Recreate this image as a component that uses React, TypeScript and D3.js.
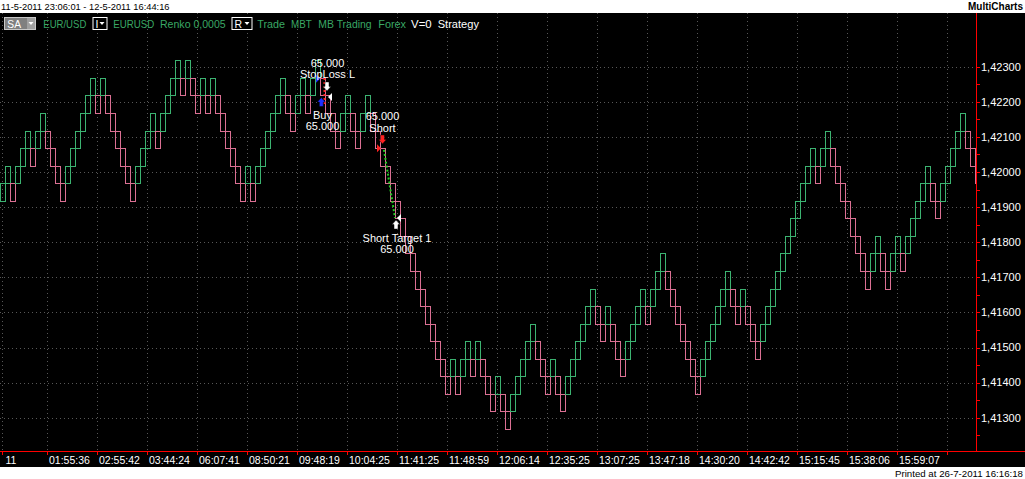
import * as d3 from 'd3';

const WIDTH = 1025;
const HEIGHT = 479;
const PLOT_RIGHT = 976;
const AXIS_Y = 451;
const BLACK_TOP = 13;
const BLACK_BOTTOM = 467;
const FONT = '"Liberation Sans", Arial, sans-serif';

const UP_COLOR = '#3cb371';
const DOWN_COLOR = '#db7093';
const HEADER_GREEN = '#3aa865';
const GRID_COLOR = '#575757';

// Renko 0,0005 bricks, read left to right. Level 0 = bottom of the lowest brick.
const BRICK_SIZE = 0.0005;
const BRICK_BASE = 1.41268;
const BRICK_DIRS =
  'GGPGGGPGGP' + 'PPPGGGGGGP' + 'GPPPPPPGGG' + 'GPGGGGPGPP' + 'GPGPPPPPPG' +
  'PGGGGGGPPG' + 'GPGGPPPPGG' + 'PPGGPPPPPP' + 'PPPPPPPPPP' + 'GPGGPGPPPG' +
  'PPGGGGGPPP' + 'GPPGGGGGGP' + 'PGPPPGGGGP' + 'GGGPPPPPPP' + 'GGGGGGPPGP' +
  'PPGGGGGGGG' + 'GGGPGGPPPP' + 'PPPPGGPPGG' + 'PGGGGGPPGG' + 'GGGPPP';
const BRICK_LOWS = [
  13, 14, 13, 14, 15, 16, 15, 16, 17, 16,
  15, 14, 13, 14, 15, 16, 17, 18, 19, 18,
  19, 18, 17, 16, 15, 14, 13, 14, 15, 16,
  17, 16, 17, 18, 19, 20, 19, 20, 19, 18,
  19, 18, 19, 18, 17, 16, 15, 14, 13, 14,
  13, 14, 15, 16, 17, 18, 19, 18, 17, 18,
  19, 18, 19, 20, 19, 18, 17, 16, 17, 18,
  17, 16, 17, 18, 17, 16, 15, 14, 13, 12,
  11, 10, 9, 8, 7, 6, 5, 4, 3, 2,
  3, 2, 3, 4, 3, 4, 3, 2, 1, 2,
  1, 0, 1, 2, 3, 4, 5, 4, 3, 2,
  3, 2, 1, 2, 3, 4, 5, 6, 7, 6,
  5, 6, 5, 4, 3, 4, 5, 6, 7, 6,
  7, 8, 9, 8, 7, 6, 5, 4, 3, 2,
  3, 4, 5, 6, 7, 8, 7, 6, 7, 6,
  5, 4, 5, 6, 7, 8, 9, 10, 11, 12,
  13, 14, 15, 14, 15, 16, 15, 14, 13, 12,
  11, 10, 9, 8, 9, 10, 9, 8, 9, 10,
  9, 10, 11, 12, 13, 14, 13, 12, 13, 14,
  15, 16, 17, 16, 15, 14,
];

const PRICE_TICKS = [
  1.423, 1.422, 1.421, 1.42, 1.419, 1.418, 1.417, 1.416, 1.415, 1.414, 1.413,
];
const TIME_TICK_BRICKS = [
  0, 9, 19, 29, 39, 49, 59, 69, 79, 89, 99, 109, 119, 129, 139, 149, 159, 169,
  179, 189,
];
const TIME_TICK_LABELS = [
  '11', '01:55:36', '02:55:42', '03:44:24', '06:07:41', '08:50:21', '09:48:19',
  '10:04:25', '11:41:25', '11:48:59', '12:06:14', '12:35:25', '13:07:25',
  '13:47:18', '14:30:20', '14:42:42', '15:15:45', '15:38:06', '15:59:07', '',
];

// header words: text, left x, width, colour
const HEADER_WORDS = [
  { text: 'EUR/USD', x: 43.3, w: 43, color: HEADER_GREEN },
  { text: 'EURUSD', x: 113.3, w: 41, color: HEADER_GREEN },
  { text: 'Renko 0,0005', x: 160, w: 65.7, color: HEADER_GREEN },
  { text: 'Trade', x: 257.3, w: 27.7, color: HEADER_GREEN },
  { text: 'MBT', x: 291, w: 20.7, color: HEADER_GREEN },
  { text: 'MB Trading', x: 318.3, w: 53.3, color: HEADER_GREEN },
  { text: 'Forex', x: 378.3, w: 27.7, color: HEADER_GREEN },
  { text: 'V=0', x: 411, w: 20.7, color: '#ffffff' },
  { text: 'Strategy', x: 437.7, w: 41.3, color: '#ffffff' },
];

// strategy markers: brick position + price
const ORDER_ARROWS = [
  { brick: 63.76, price: 1.42212, dir: 'up', color: '#1f2fff' },
  { brick: 64.9, price: 1.42231, dir: 'down', color: '#ffffff' },
  { brick: 76, price: 1.4208, dir: 'down', color: '#ff2020' },
  { brick: 78.7, price: 1.41863, dir: 'up', color: '#ffffff' },
];
const ORDER_FLAGS = [
  { brick: 62.7, price: 1.42266, dir: 'right', color: '#1f2fff' },
  { brick: 65.1, price: 1.42214, dir: 'left', color: '#ffffff' },
  { brick: 74.9, price: 1.42068, dir: 'right', color: '#ff2020' },
  { brick: 78.9, price: 1.41869, dir: 'left', color: '#ffffff' },
];
const TRADE_LINES = [
  { b0: 64.4, p0: 1.42268, b1: 64.4, p1: 1.42191, color: '#ff2020' },
  { b0: 76.3, p0: 1.42063, b1: 78.5, p1: 1.41869, color: '#22cc22' },
];
const ORDER_TEXTS = [
  { brick: 65, price: 1.423, lines: ['65.000', 'StopLoss L'] },
  { brick: 64, price: 1.42151, lines: ['Buy', '65.000'] },
  { brick: 76, price: 1.42148, lines: ['65.000', 'Short'] },
  { brick: 78.9, price: 1.41801, lines: ['Short Target 1', '65.000'] },
];

const x = d3
  .scaleLinear()
  .domain([0, 1])
  .range([2.5, 7.5]);
const y = d3.scaleLinear().domain([1.413, 1.423]).range([417.7, 66.7]);
const priceFormat = (v: number) => d3.format('.5f')(v).replace('.', ',');

function blockArrow(cx: number, tipY: number, up: boolean) {
  const s = up ? 1 : -1;
  const hw = 4;
  const headH = 4.5;
  const sw = 2;
  const len = 9;
  return `M${cx},${tipY} L${cx + hw},${tipY + s * headH} L${cx + sw},${tipY + s * headH} L${cx + sw},${tipY + s * len} L${cx - sw},${tipY + s * len} L${cx - sw},${tipY + s * headH} L${cx - hw},${tipY + s * headH} Z`;
}

function flag(px: number, cy: number, right: boolean) {
  if (right) return `M${px},${cy - 4} L${px + 4},${cy} L${px},${cy + 4} Z`;
  return `M${px},${cy} L${px + 4},${cy - 4} L${px + 4},${cy + 4} Z`;
}

function DropBox({ x0, w, label }: { x0: number; w: number; label: string }) {
  return (
    <g>
      <rect x={x0 + 0.5} y={17.5} width={w} height={12} fill="#000" stroke="#fff" />
      <text x={x0 + 3} y={27.5} fill="#fff" fontSize={10.5}>
        {label}
      </text>
      <path
        d={`M${x0 + w - 7},${22} L${x0 + w - 2},${22} L${x0 + w - 4.5},${25} Z`}
        fill="#fff"
      />
    </g>
  );
}

export default function App() {
  const bricks = BRICK_LOWS.map((low, i) => ({
    i,
    up: BRICK_DIRS[i] === 'G',
    lo: BRICK_BASE + low * BRICK_SIZE,
    hi: BRICK_BASE + (low + 1) * BRICK_SIZE,
  }));
  const minorTicks = d3.range(0, 22).map((k) => 1.4125 + k * BRICK_SIZE);

  return (
    <svg
      width={WIDTH}
      height={HEIGHT}
      style={{ position: 'absolute', left: 0, top: 0, fontFamily: FONT }}
    >
      <rect width={WIDTH} height={HEIGHT} fill="#fff" />
      <rect y={BLACK_TOP} width={WIDTH} height={BLACK_BOTTOM - BLACK_TOP} fill="#000" />

      <text x={1} y={9.5} fontSize={9.3} fill="#000">
        11-5-2011 23:06:01 - 12-5-2011 16:44:16
      </text>
      <text x={1023} y={9.5} fontSize={10} fontWeight="bold" fill="#000" textAnchor="end">
        MultiCharts
      </text>

      <defs>
        <clipPath id="plot">
          <rect x={0} y={BLACK_TOP} width={PLOT_RIGHT} height={AXIS_Y - BLACK_TOP} />
        </clipPath>
      </defs>

      {/* grid */}
      <g stroke={GRID_COLOR} strokeDasharray="1,3" shapeRendering="crispEdges">
        {PRICE_TICKS.map((p) => (
          <line key={p} x1={0} x2={PLOT_RIGHT} y1={Math.round(y(p)) + 0.5} y2={Math.round(y(p)) + 0.5} />
        ))}
        {TIME_TICK_BRICKS.map((b) => (
          <line key={b} x1={Math.floor(x(b)) + 0.5} x2={Math.floor(x(b)) + 0.5} y1={BLACK_TOP} y2={AXIS_Y} />
        ))}
      </g>

      {/* bricks */}
      <g clipPath="url(#plot)" fill="none" shapeRendering="crispEdges">
        {bricks.map((b) => {
          const top = Math.round(y(b.hi)) + 0.5;
          const bot = Math.round(y(b.lo)) + 0.5;
          return (
            <rect
              key={b.i}
              x={x(b.i) - 2.5 + 0.5}
              y={top}
              width={5}
              height={bot - top}
              stroke={b.up ? UP_COLOR : DOWN_COLOR}
              strokeWidth={1}
            />
          );
        })}
      </g>

      {/* strategy marks */}
      <g>
        {TRADE_LINES.map((l, k) => (
          <line
            key={k}
            x1={x(l.b0)}
            y1={y(l.p0)}
            x2={x(l.b1)}
            y2={y(l.p1)}
            stroke={l.color}
            strokeWidth={2}
            strokeDasharray="2,2"
          />
        ))}
        {ORDER_FLAGS.map((f, k) => (
          <path key={k} d={flag(x(f.brick), y(f.price), f.dir === 'right')} fill={f.color} />
        ))}
        {ORDER_ARROWS.map((a, k) => (
          <path
            key={k}
            d={blockArrow(x(a.brick), y(a.price), a.dir === 'up')}
            fill={a.color}
            stroke="#000"
            strokeWidth={0.5}
          />
        ))}
        {ORDER_TEXTS.map((t, k) => (
          <text key={k} x={x(t.brick)} y={y(t.price)} fill="#fff" fontSize={11} textAnchor="middle">
            {t.lines.map((s, j) => (
              <tspan key={j} x={x(t.brick)} dy={j === 0 ? 0 : 11.5}>
                {s}
              </tspan>
            ))}
          </text>
        ))}
      </g>

      {/* header */}
      <rect x={4.5} y={17.5} width={31} height={12} fill="#808080" stroke="#c8c8c8" />
      <rect x={27} y={18} width={8} height={11} fill="#a0a0a0" />
      <text x={7.3} y={27.5} fill="#fff" fontSize={10.5} textLength={13.7} lengthAdjust="spacingAndGlyphs">
        SA
      </text>
      <path d="M28.5,22 L33.5,22 L31,25 Z" fill="#fff" />
      {HEADER_WORDS.map((w) => (
        <text
          key={w.text}
          x={w.x}
          y={27.5}
          fill={w.color}
          fontSize={10.5}
          textLength={w.w}
          lengthAdjust="spacingAndGlyphs"
        >
          {w.text}
        </text>
      ))}
      <DropBox x0={92.5} w={14} label="I" />
      <DropBox x0={231.5} w={20} label="R" />

      {/* price axis */}
      <line x1={PLOT_RIGHT + 0.5} x2={PLOT_RIGHT + 0.5} y1={BLACK_TOP} y2={AXIS_Y} stroke="#ff0000" shapeRendering="crispEdges" />
      <g stroke="#ff0000" shapeRendering="crispEdges">
        {minorTicks.map((p) => (
          <line key={p} x1={PLOT_RIGHT} x2={PLOT_RIGHT + 4} y1={Math.round(y(p)) + 0.5} y2={Math.round(y(p)) + 0.5} />
        ))}
      </g>
      {PRICE_TICKS.map((p) => (
        <text key={p} x={981} y={y(p)} dy="0.35em" fill="#fff" fontSize={11}>
          {priceFormat(p)}
        </text>
      ))}

      {/* time axis */}
      <line x1={0} x2={WIDTH} y1={AXIS_Y + 0.5} y2={AXIS_Y + 0.5} stroke="#ff0000" shapeRendering="crispEdges" />
      <g stroke="#ff0000" shapeRendering="crispEdges">
        {TIME_TICK_BRICKS.map((b) => (
          <line key={b} x1={Math.floor(x(b)) + 0.5} x2={Math.floor(x(b)) + 0.5} y1={AXIS_Y} y2={AXIS_Y + 4} />
        ))}
      </g>
      {TIME_TICK_BRICKS.map((b, k) => (
        <text key={b} x={Math.floor(x(b)) + (k === 0 ? 3.5 : 2)} y={464} fill="#fff" fontSize={10.5}>
          {TIME_TICK_LABELS[k]}
        </text>
      ))}

      <text x={1023} y={476.5} fontSize={9.7} fill="#000" textAnchor="end">
        Printed at 26-7-2011 16:16:18
      </text>
    </svg>
  );
}
